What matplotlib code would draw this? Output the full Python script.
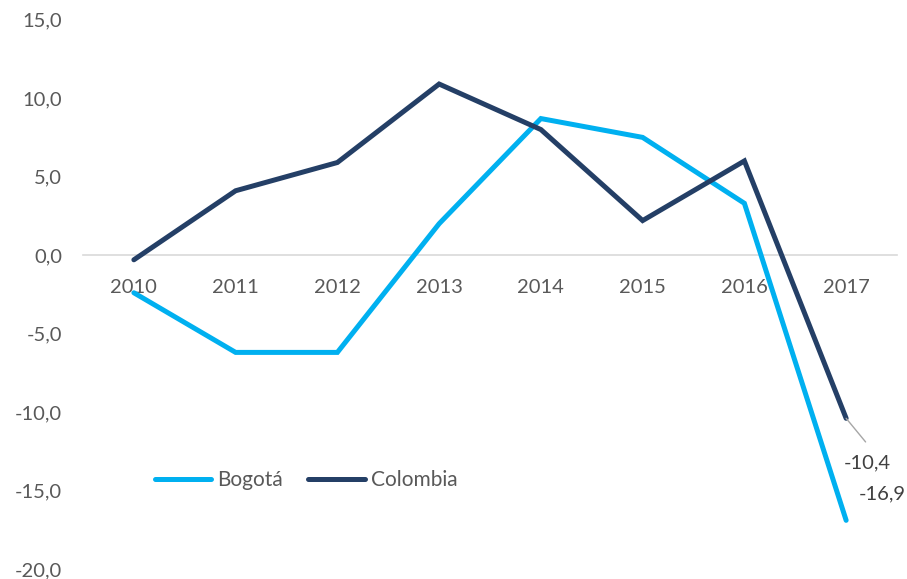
import matplotlib
matplotlib.use("Agg")
import matplotlib.pyplot as plt

years = ["2010", "2011", "2012", "2013", "2014", "2015", "2016", "2017"]
bogota = [-2.4, -6.2, -6.2, 2.0, 8.7, 7.5, 3.3, -16.9]
colombia = [-0.3, 4.1, 5.9, 10.9, 8.0, 2.2, 6.0, -10.4]
yticks = [-20, -15, -10, -5, 0, 5, 10, 15]

gray_txt = "#595959"
plt.rcParams['font.family'] = ['Lato', 'DejaVu Sans']

fig = plt.figure(figsize=(9.07, 5.79), dpi=100)
ax = fig.add_axes([0.0915, 0.0173, 0.8975, 0.9487])

x = list(range(len(years)))
ax.plot(x, bogota, color="#00B0F0", lw=3.6, solid_capstyle="round",
        solid_joinstyle="miter", label="Bogotá")
ax.plot(x, colombia, color="#243F66", lw=3.6, solid_capstyle="round",
        solid_joinstyle="miter", label="Colombia")

ax.set_xlim(-0.5, len(years) - 0.5)
ax.set_ylim(-20, 15)
ax.set_yticks(yticks)
ax.set_yticklabels([("%.1f" % v).replace(".", ",") for v in yticks])
ax.set_xticks(x)
ax.set_xticklabels(years)

for s in ["top", "right", "left"]:
    ax.spines[s].set_visible(False)
ax.spines["bottom"].set_position(("data", 0))
ax.spines["bottom"].set_color("#D9D9D9")
ax.spines["bottom"].set_linewidth(1.2)
ax.spines["bottom"].set_zorder(0)
ax.tick_params(axis="x", length=0, pad=17, labelsize=14.5, labelcolor=gray_txt)
ax.tick_params(axis="y", length=0, pad=15, labelsize=14.5, labelcolor=gray_txt)

# etiquetas del ultimo año
last = len(years) - 1
ax.annotate("", xy=(last, colombia[-1]), xytext=(14, -17),
            textcoords="offset points",
            arrowprops=dict(arrowstyle="-", color="#A6A6A6", lw=1,
                            shrinkA=0, shrinkB=0))
ax.annotate(("%.1f" % colombia[-1]).replace(".", ","), xy=(last, colombia[-1]),
            xytext=(-2, -32), textcoords="offset points", ha="left",
            va="center", fontsize=14.5, color="#404040")
ax.annotate(("%.1f" % bogota[-1]).replace(".", ","), xy=(last, bogota[-1]),
            xytext=(9, 19), textcoords="offset points", ha="left",
            va="center", fontsize=14.5, color="#404040")

leg = ax.legend(loc="center left", bbox_to_anchor=(0.0885, 0.162), ncol=2,
                frameon=False, fontsize=15, handlelength=2.7,
                handletextpad=0.3, columnspacing=1.2, borderaxespad=0,
                borderpad=0)
for t in leg.get_texts():
    t.set_color(gray_txt)

fig.savefig("out.png", dpi=100)
